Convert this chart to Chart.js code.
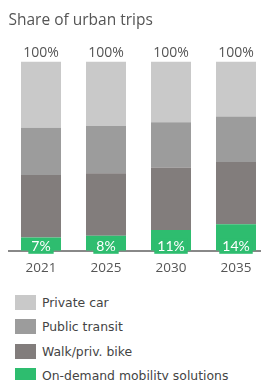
<!DOCTYPE html>
<html>
<head>
<meta charset="utf-8">
<script src="https://cdn.jsdelivr.net/npm/chart.js@4/dist/chart.umd.min.js"></script>
<style>
  html, body { margin: 0; padding: 0; background: #fff; overflow: hidden; }
  #wrap { position: relative; width: 270px; height: 277px; }
  #legend { position: absolute; left: 15px; top: 290px; font-family: "DejaVu Sans", sans-serif; font-size: 12.4px; color: #444; }
  .item { display: flex; align-items: center; height: 24.5px; }
  .box { width: 21px; height: 15px; margin-right: 6px; }
</style>
</head>
<body>
<div id="wrap"><canvas id="grafico" width="270" height="277"></canvas></div>
<div id="legend"></div>
<script>
  const anos = ['2021', '2025', '2030', '2035'];
  const sobDemanda = [7, 8, 11, 14];
  const caminhada = [33, 33, 33, 33];
  const transporte = [25, 25, 24, 24];
  const carro = [35, 34, 32, 29];

  const series = [
    { label: 'On-demand mobility solutions', data: sobDemanda, cor: '#2ebd6f' },
    { label: 'Walk/priv. bike', data: caminhada, cor: '#827d7c' },
    { label: 'Public transit', data: transporte, cor: '#9c9c9c' },
    { label: 'Private car', data: carro, cor: '#c9c9c9' }
  ];

  // rotulos: % dentro da barra verde e total em cima
  const rotulos = {
    id: 'rotulos',
    afterDatasetsDraw(chart) {
      const ctx = chart.ctx;
      ctx.save();
      ctx.textAlign = 'center';
      ctx.textBaseline = 'middle';
      const verde = chart.getDatasetMeta(0);
      ctx.font = '14px Lato, sans-serif';
      verde.data.forEach((bar, i) => {
        const txt = sobDemanda[i] + '%';
        const w = ctx.measureText(txt).width;
        const y = Math.max((bar.y + bar.base) / 2, bar.base - 4);
        ctx.fillStyle = series[0].cor;
        ctx.fillRect(bar.x - w / 2 - 3, y - 8, w + 6, 15);
        ctx.fillStyle = '#fff';
        ctx.fillText(txt, bar.x, y);
      });
      const topo = chart.getDatasetMeta(3);
      ctx.font = '14px "Open Sans", sans-serif';
      ctx.fillStyle = '#555';
      topo.data.forEach((bar, i) => {
        const total = sobDemanda[i] + caminhada[i] + transporte[i] + carro[i];
        ctx.fillText(total + '%', bar.x, bar.y - 9);
      });
      ctx.restore();
    }
  };

  const ctx = document.getElementById('grafico').getContext('2d');
  new Chart(ctx, {
    type: 'bar',
    data: {
      labels: anos,
      datasets: series.map(s => ({
        label: s.label,
        data: s.data,
        backgroundColor: s.cor,
        borderWidth: 0,
        barPercentage: 1,
        categoryPercentage: 40 / 65
      }))
    },
    options: {
      responsive: false,
      animation: false,
      layout: { padding: { left: 8.5, right: 1.5, top: 0, bottom: 0 } },
      plugins: {
        legend: { display: false },
        tooltip: { enabled: false },
        title: {
          display: true,
          text: 'Share of urban trips',
          align: 'start',
          color: '#555',
          font: { family: '"Open Sans", sans-serif', size: 15.5, weight: 'normal' },
          padding: { top: 11, bottom: 32 }
        }
      },
      scales: {
        x: {
          stacked: true,
          grid: { display: false },
          border: { color: '#888', width: 2 },
          ticks: { color: '#555', font: { family: '"Open Sans", sans-serif', size: 13.5 }, padding: 1 }
        },
        y: {
          stacked: true,
          display: false,
          min: 0,
          max: 100
        }
      }
    },
    plugins: [rotulos]
  });

  const legenda = document.getElementById('legend');
  series.slice().reverse().forEach(s => {
    legenda.innerHTML += `<div class="item"><div class="box" style="background:${s.cor}"></div>${s.label}</div>`;
  });
</script>
</body>
</html>
